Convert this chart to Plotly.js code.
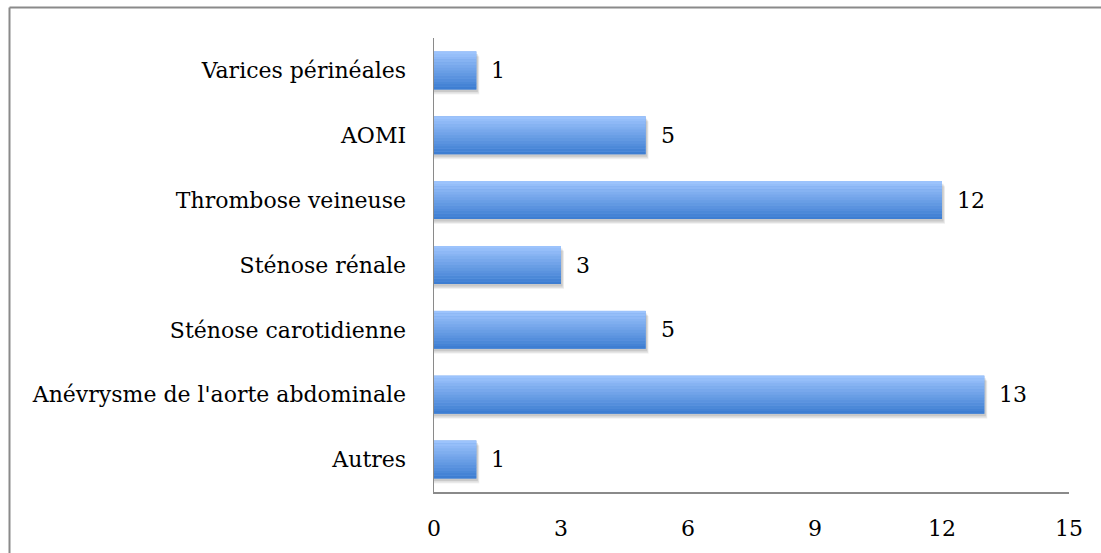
<!DOCTYPE html>
<html><head><meta charset="utf-8">
<script src="https://cdn.plot.ly/plotly-3.0.1.min.js"></script>
<style>html,body{margin:0;padding:0;background:#fff;overflow:hidden}#chart{width:1101px;height:553px}</style>
</head><body><div id="chart"></div>
<script>
const categories = ["Autres","Anévrysme de l'aorte abdominale","Sténose carotidienne","Sténose rénale","Thrombose veineuse","AOMI","Varices périnéales"];
const values = [1,13,5,3,12,5,1];
const xTicks = [0,3,6,9,12,15];

const FONT = "DejaVu Serif, Liberation Serif, serif";
const FS = 22;
const barW = 0.585;
const N = 14;
const lightC = [156,195,252], darkC = [62,126,210];
const pxX = 15/635, pxY = 1/64.86;
const traces = [];
// soft shadow layers
[[5,'rgba(0,0,0,0.05)'],[4,'rgba(0,0,0,0.07)'],[2.5,'rgba(0,0,0,0.10)']].forEach(([d,col])=>{
  traces.push({type:'bar', orientation:'h', x:values.map(v=>v+d*0.6*pxX), y:categories,
    width:barW, offset:-barW/2-d*pxY, marker:{color:col, line:{width:0}}, hoverinfo:'skip'});
});
traces.push({type:'bar', orientation:'h', x:values, y:categories, width:barW,
  marker:{color:'rgb(110,160,230)', line:{width:0}}, hoverinfo:'x+y'});
for (let i=0;i<N;i++){
  const t = i/(N-1);
  const c = darkC.map((b,k)=>Math.round(b+(lightC[k]-b)*t));
  traces.push({type:'bar', orientation:'h', x:values, y:categories,
    width:barW/N+0.002, offset:-barW/2+i*barW/N,
    marker:{color:`rgb(${c.join(',')})`, line:{width:0}}, hoverinfo:'skip'});
}
const annotations = categories.map((c,i)=>({x:values[i], y:c, xref:'x', yref:'y',
  text:String(values[i]), showarrow:false, xanchor:'left', xshift:13,
  font:{family:FONT, size:FS, color:'#000'}}));

const layout = {
  width:1101, height:553, showlegend:false, barmode:'overlay',
  paper_bgcolor:'#fff', plot_bgcolor:'#fff',
  margin:{l:434, r:32, t:38, b:61, pad:0},
  font:{family:FONT, size:FS, color:'#000'},
  xaxis:{range:[0,15], tickvals:xTicks, ticktext:xTicks.map(String), showgrid:false, zeroline:false,
    showline:true, linecolor:'#8a8a8a', linewidth:1.5, ticks:'', ticklabelstandoff:16, fixedrange:true,
    tickfont:{family:FONT, size:FS, color:'#000'}},
  yaxis:{type:'category', categoryorder:'array', categoryarray:categories, showgrid:false, zeroline:false,
    showline:true, linecolor:'#8a8a8a', linewidth:1.5, ticks:'', ticklabelstandoff:22, fixedrange:true,
    tickfont:{family:FONT, size:FS, color:'#000'}},
  annotations:annotations,
  shapes:[
    {type:'line', xref:'paper', yref:'paper', x0:(9.5-434)/635, x1:(1101-434)/635, y0:1+(38-7.5)/454, y1:1+(38-7.5)/454, line:{color:'#8a8a8a', width:2}},
    {type:'line', xref:'paper', yref:'paper', x0:(9.5-434)/635, x1:(9.5-434)/635, y0:1+(38-7.5)/454, y1:-61/454, line:{color:'#8a8a8a', width:2}}
  ]
};
Plotly.newPlot('chart', traces, layout, {displayModeBar:false, staticPlot:true});
</script></body></html>
